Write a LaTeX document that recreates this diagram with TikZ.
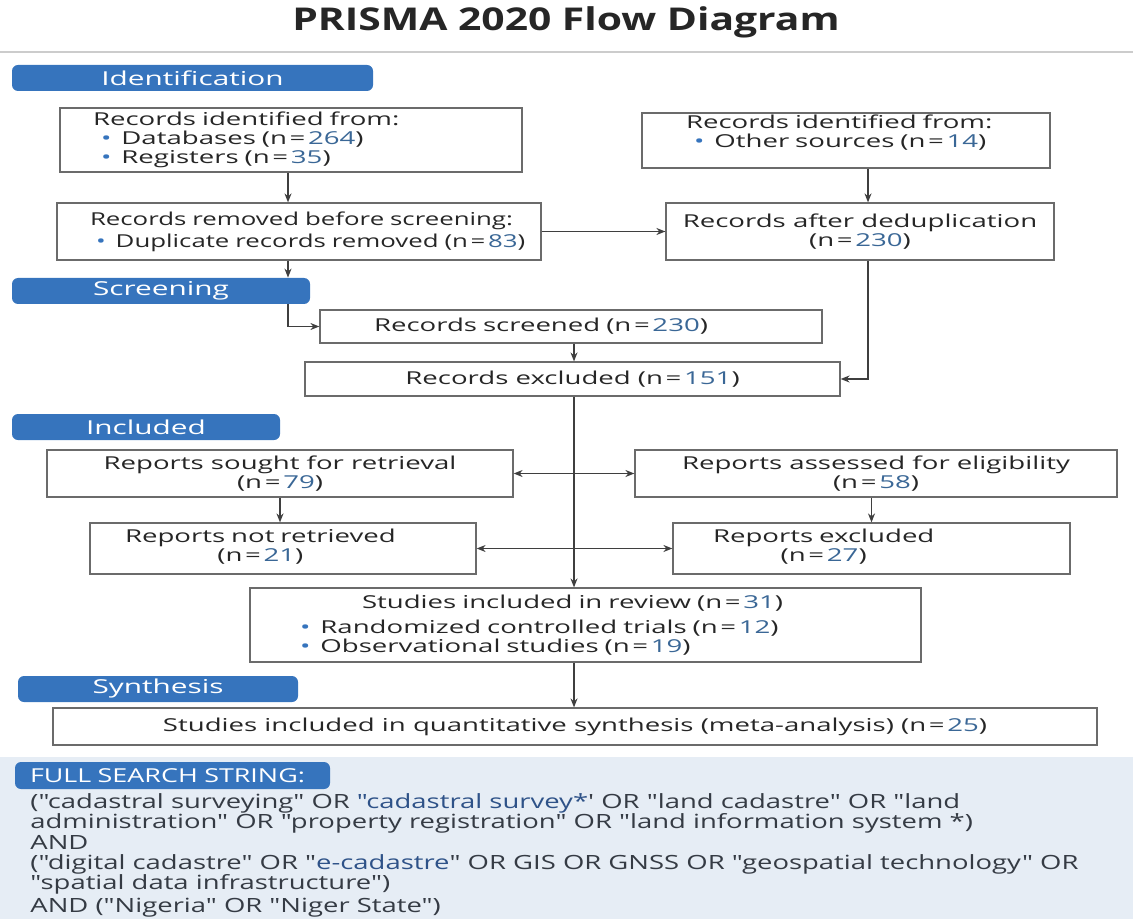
\documentclass[tikz,border=0pt]{standalone}
\usepackage{fontspec}
\setmainfont{Open Sans}[FakeStretch=1.55]
\newfontfamily\titlefont{Open Sans}[FakeStretch=1.3]
\newfontfamily\narrowfont{Open Sans}[FakeStretch=1.45]
\newfontfamily\searchfont{Open Sans}[FakeStretch=1.4, Ligatures=TeXOff]
\usetikzlibrary{arrows.meta}

\definecolor{tabblue}{HTML}{3674BD}
\definecolor{numblue}{HTML}{3A6796}
\definecolor{boxgray}{HTML}{6B6B6B}
\definecolor{linegray}{HTML}{3F3F3F}
\definecolor{textdark}{HTML}{262626}
\definecolor{searchbg}{HTML}{E6EDF5}
\definecolor{searchtext}{HTML}{353B44}
\definecolor{searchblue}{HTML}{2E5288}

\newcommand{\bodysize}{\fontsize{8.9}{9.6}\selectfont}
\newcommand{\tabsize}{\fontsize{9.6}{11}\selectfont}
\newcommand{\cnt}[1]{(n\hspace{0.15em}=\hspace{0.15em}\textcolor{numblue}{#1})}
\newcommand{\bul}{\textcolor{tabblue}{\textbullet}}

\begin{document}
\begin{tikzpicture}[x=0.5pt, y=-0.5pt,
    >={Stealth[length=4.5pt, width=3.5pt]},
    box/.style={draw=boxgray, line width=0.6pt, fill=white, inner sep=0pt, text=textdark, font=\bodysize},
    boxL/.style={box, align=left},
    boxC/.style={box, align=center},
    tab/.style={fill=tabblue, rounded corners=3pt, text=white, inner sep=0pt, minimum height=13pt, font=\tabsize},
    flow/.style={->, draw=linegray, line width=0.7pt},
    dflow/.style={<->, draw=linegray, line width=0.7pt}]
    \useasboundingbox (0,0) rectangle (1133,919);

    % Title and rule
    \node[font=\titlefont\fontsize{15.7}{18}\selectfont\bfseries, text=black!85] (title) at (566,22) {PRISMA 2020 Flow Diagram};
    \draw[black!20, line width=0.8pt] (0,52) -- (1133,52);

    % Search string background
    \fill[searchbg] (0,757) rectangle (1133,919);

    % Phase tabs
    \foreach \nm/\txt/\cx/\cy/\w in {ident/Identification/192.5/78/180.5, screen/Screening/161/291/149,
        incl/Included/146/427/134, synth/Synthesis/158/689/140}
      \node[tab, minimum width=\w pt] (\nm) at (\cx,\cy) {\txt};

    % Helper x positions of the vertical connectors
    \coordinate (spL) at (288,0);
    \coordinate (spM) at (574,0);
    \coordinate (spR) at (868,0);

    % Identification
    \node[boxL, minimum height=32pt, text width=198pt, inner xsep=16.5pt] (idDb) at (291,140)
      {Records identified from:\\ \hspace*{4pt}\bul\hspace{5pt}Databases \cnt{264}\\ \hspace*{4pt}\bul\hspace{5pt}Registers \cnt{35}};
    \node[boxL, minimum height=27.5pt, text width=160pt, inner xsep=22pt] (idOther) at (846,140.5)
      {Records identified from:\\ \hspace*{4pt}\bul\hspace{5pt}Other sources \cnt{14}\\ \mbox{}};
    \node[boxL, minimum height=28.5pt, text width=209pt, inner xsep=16.5pt, font=\narrowfont\bodysize] (removed) at (299,231.5)
      {\mbox{Records removed before screening:}\\[1.5pt] \mbox{\hspace*{3pt}\bul\hspace{5pt}Duplicate records removed \cnt{83}}};
    \node[boxC, minimum width=194pt, minimum height=28.5pt] (dedup) at (860,231.5)
      {Records after deduplication\\ \cnt{230}};

    % Screening
    \node[boxL, minimum height=16.5pt, text width=197pt, inner xsep=27pt] (screened) at (571,326.5)
      {\mbox{Records screened \cnt{230}}};
    \node[boxC, minimum width=267.5pt, minimum height=17pt] (excluded) at (572.5,379)
      {Records excluded \cnt{151}};

    % Included
    \node[boxC, minimum width=233pt, minimum height=23.5pt] (sought) at (280,473.5)
      {Reports sought for retrieval\\ \cnt{79}};
    \node[boxC, minimum width=241pt, minimum height=23.5pt] (assessed) at (876,473.5)
      {Reports assessed for eligibility\\ \cnt{58}};
    \node[boxL, minimum height=25.5pt, text width=158pt, inner xsep=17.5pt] (notRetr) at (283,548.5)
      {\begin{tabular}{@{}c@{}}Reports not retrieved\\ \cnt{21}\end{tabular}};
    \node[boxL, minimum height=25.5pt, text width=158.5pt, inner xsep=20pt] (repExcl) at (871.5,548.5)
      {\begin{tabular}{@{}c@{}}Reports excluded\\ \cnt{27}\end{tabular}};
    \node[boxL, minimum height=37pt, text width=285.5pt, inner xsep=25pt] (included) at (585.5,625)
      {\hspace*{31pt}Studies included in review \cnt{31}\\[3pt]
       \bul\hspace{5pt}Randomized controlled trials \cnt{12}\\
       \bul\hspace{5pt}Observational studies \cnt{19}};

    % Synthesis
    \node[boxC, minimum width=522pt, minimum height=18.5pt] (quant) at (575,726.5)
      {Studies included in quantitative synthesis (meta-analysis) \cnt{25}};

    % Full search string
    \node[tab, align=left, minimum height=13.5pt, text width=142.5pt, inner xsep=7.5pt,
          font=\searchfont\fontsize{9.6}{11}\selectfont] (searchtab) at (172.5,775.5) {FULL SEARCH STRING:};
    \node[anchor=north west, align=left, inner sep=0pt, text=searchtext,
          font=\searchfont\fontsize{9.8}{10.2}\selectfont] (search) at (30,793)
      {("cadastral surveying" OR \textcolor{searchblue}{"cadastral survey*}' OR "land cadastre" OR "land\\
       administration" OR "property registration" OR "land information system *)\\
       AND\\
       ("digital cadastre" OR "\textcolor{searchblue}{e-cadastre}" OR GIS OR GNSS OR "geospatial technology" OR\\
       "spatial data infrastructure")\\[1pt]
       AND ("Nigeria" OR "Niger State")};

    % Connectors
    \draw[flow] (idDb.south -| spL) -- (removed.north -| spL);
    \draw[flow] (idOther.south -| spR) -- (dedup.north -| spR);
    \draw[flow] (removed.east) -- (dedup.west);
    \draw[flow] (removed.south -| spL) -- (screen.north -| spL);
    \draw[flow] (screen.south -| spL) |- (screened.west);
    \draw[flow] (screened.south -| spM) -- (excluded.north -| spM);
    \draw[flow] (dedup.south -| spR) |- (excluded.east);
    \draw[flow] (excluded.south -| spM) -- (included.north -| spM);
    \draw[dflow] (sought.east) -- (assessed.west);
    \draw[flow] (sought.south) -- (sought.south |- notRetr.north);
    \draw[flow] (repExcl.north |- assessed.south) -- (repExcl.north);
    \draw[dflow] (notRetr.east) -- (repExcl.west);
    \draw[flow] (included.south -| spM) -- (quant.north -| spM);
\end{tikzpicture}
\end{document}
